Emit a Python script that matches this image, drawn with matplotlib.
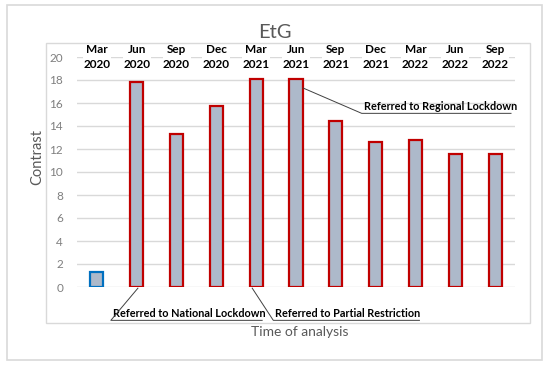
import matplotlib
matplotlib.use("Agg")
import matplotlib.pyplot as plt
from matplotlib.patches import Rectangle

categories = ["Mar\n2020", "Jun\n2020", "Sep\n2020", "Dec\n2020", "Mar\n2021", "Jun\n2021",
              "Sep\n2021", "Dec\n2021", "Mar\n2022", "Jun\n2022", "Sep\n2022"]
values = [1.3, 17.8, 13.3, 15.7, 18.1, 18.1, 14.4, 12.6, 12.8, 11.6, 11.6]
yticks = [0, 2, 4, 6, 8, 10, 12, 14, 16, 18, 20]

plt.rcParams['font.family'] = ['Lato', 'DejaVu Sans']

W, H = 550, 367
fig = plt.figure(figsize=(5.5, 3.67), dpi=100)

def fx(px):
    return px / W

def fy(py):
    return 1 - py / H

# outer and inner frames
fig.patches.append(Rectangle((fx(7), fy(360)), fx(542) - fx(7), fy(5) - fy(360),
                             transform=fig.transFigure, fill=False, edgecolor='#d9d9d9', lw=1.2))
fig.patches.append(Rectangle((fx(46), fy(323)), fx(530) - fx(46), fy(43) - fy(323),
                             transform=fig.transFigure, fill=False, edgecolor='#d9d9d9', lw=1.0))

ax = fig.add_axes([fx(77), fy(287), fx(515) - fx(77), fy(57) - fy(287)])
x = list(range(len(categories)))
edges = ['#0070C0'] + ['#C00000'] * (len(values) - 1)
ax.bar(x, values, width=0.33, color='#ADB9CA', edgecolor=edges, linewidth=1.6, zorder=3)
ax.set_xlim(-0.5, len(categories) - 0.5)
ax.set_ylim(0, 20)
ax.set_yticks(yticks)
ax.tick_params(axis='y', length=0, labelsize=8.5, labelcolor='#7f7f7f', pad=10)
ax.set_xticks([])
for s in ax.spines.values():
    s.set_visible(False)
ax.grid(axis='y', color='#d9d9d9', lw=1.0, zorder=0)

for i, c in enumerate(categories):
    ax.text(i, 20.0, c, ha='center', va='center', fontsize=8.5, fontweight='bold',
            color='black', linespacing=1.35, zorder=5,
            bbox=dict(facecolor='white', edgecolor='none', pad=0.3))

fig.text(fx(275), fy(32), "EtG", ha='center', va='center', fontsize=14.5, color='#595959')
fig.text(fx(37), fy(157), "Contrast", rotation=90, ha='center', va='center',
         fontsize=10.5, color='#595959')
fig.text(fx(300), fy(332), "Time of analysis", ha='center', va='center', fontsize=10, color='#595959')

def callout(start, elbow, end_x, label):
    ax.plot([start[0], elbow[0], end_x], [start[1], elbow[1], elbow[1]], color='#404040',
            lw=0.7, clip_on=False, zorder=4)
    ax.text(elbow[0] + 0.05, elbow[1] + 0.12, label, ha='left', va='bottom', fontsize=7.8,
            fontweight='bold', color='black', clip_on=False)

callout((5.18, 17.3), (6.65, 15.1), 10.4, "Referred to Regional Lockdown")
callout((1.03, -0.1), (0.35, -2.9), 4.15, "Referred to National Lockdown")
callout((3.9, -0.1), (4.43, -2.9), 8.1, "Referred to Partial Restriction")

fig.savefig("out.png", dpi=100)
